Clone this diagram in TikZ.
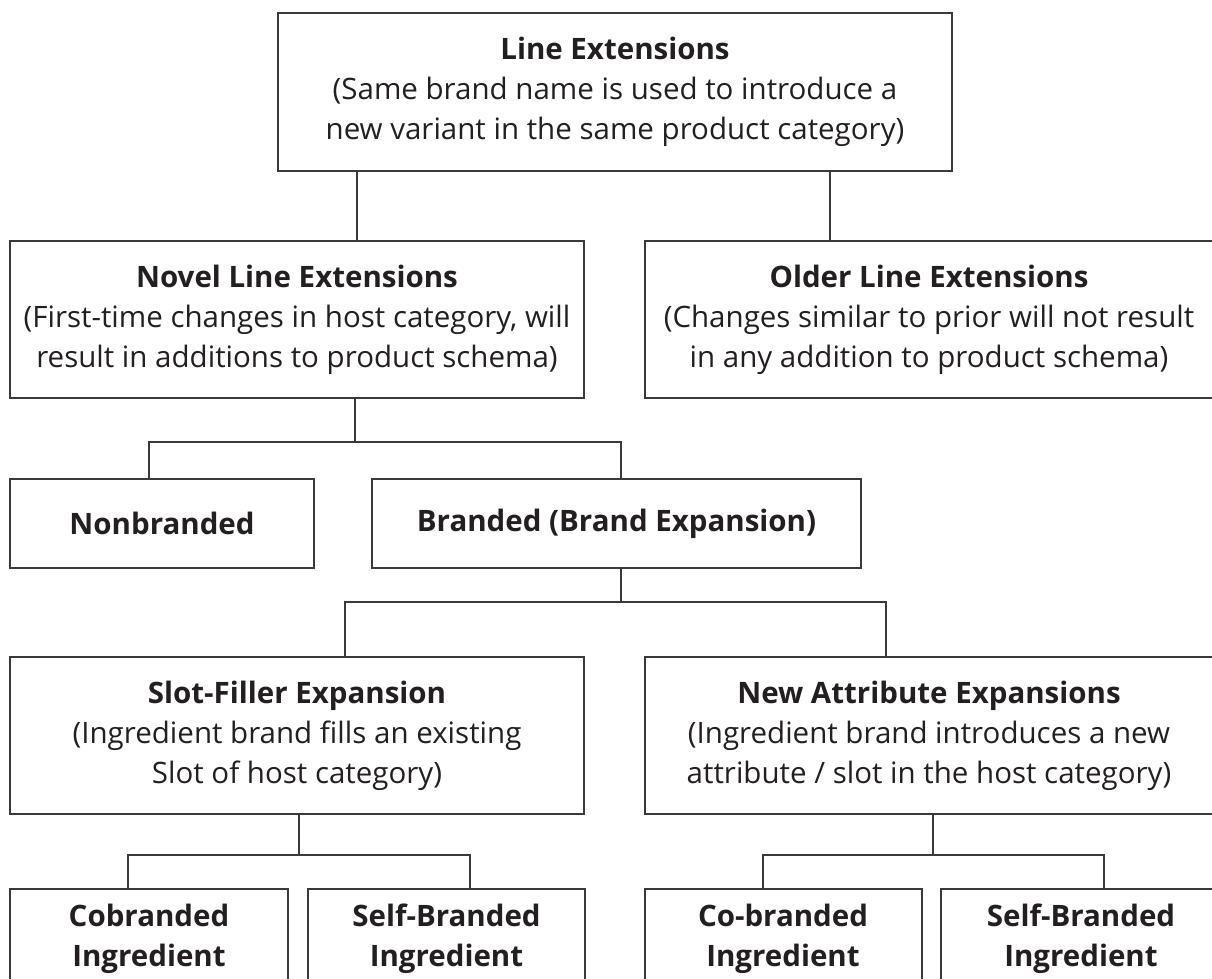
\documentclass[tikz,border=0pt]{standalone}
\usepackage{fontspec}
\setmainfont{Open Sans}
\definecolor{boxline}{HTML}{3A3A3A}
\definecolor{ink}{HTML}{231F20}
\tikzstyle{box} = [draw=boxline, line width=2pt, rectangle, inner sep=0pt, align=center, text=ink, font=\fontsize{29.5}{40}\selectfont]
\tikzstyle{wire} = [draw=boxline, line width=2pt]

\begin{document}
\begin{tikzpicture}[x=1pt,y=-1pt]
\useasboundingbox (0,0) rectangle (1212,979);
\clip (0,0) rectangle (1212,979);
\node [box, minimum width=674, minimum height=158] (top) at (615,92)
	{\textbf{Line Extensions}\\(Same brand name is used to introduce a\\new variant in the same product category)};
\node [box, minimum width=574, minimum height=157] (novel) at (297,319.5)
	{\textbf{Novel Line Extensions}\\(First-time changes in host category, will\\result in additions to product schema)};
\node [box, minimum width=568, minimum height=157] (older) at (929,319.5)
	{\textbf{Older Line Extensions}\\(Changes similar to prior will not result\\in any addition to product schema)};
\node [box, minimum width=304, minimum height=89] (nonbr) at (162,523.5) {\textbf{Nonbranded}};
\node [box, minimum width=489, minimum height=89] (branded) at (616.5,523.5) {\textbf{Branded (Brand Expansion)}};
\node [box, minimum width=574, minimum height=157] (slot) at (297,735.5)
	{\textbf{Slot-Filler Expansion}\\(Ingredient brand fills an existing\\Slot of host category)};
\node [box, minimum width=568, minimum height=157] (attr) at (929,735.5)
	{\textbf{New Attribute Expansions}\\(Ingredient brand introduces a new\\attribute / slot in the host category)};
\node [box, minimum width=278, minimum height=100] (cobr) at (149,939) {\textbf{Cobranded}\\\textbf{Ingredient}};
\node [box, minimum width=277, minimum height=100] (selfa) at (446.5,939) {\textbf{Self-Branded}\\\textbf{Ingredient}};
\node [box, minimum width=277, minimum height=100] (cobrb) at (783,939) {\textbf{Co-branded}\\\textbf{Ingredient}};
\node [box, minimum width=280, minimum height=100] (selfb) at (1081,939) {\textbf{Self-Branded}\\\textbf{Ingredient}};

% connectors
\draw [wire] (top.south -| 357,0) -- (novel.north -| 357,0);
\draw [wire] (top.south -| 830,0) -- (older.north -| 830,0);

\coordinate (bus1) at (355,442);
\draw [wire] (novel.south -| bus1) -- (bus1);
\draw [wire] (nonbr.north -| 149,0) |- (bus1) -| (branded.north -| 621,0);

\coordinate (bus2) at (621,602);
\draw [wire] (branded.south -| bus2) -- (bus2);
\draw [wire] (slot.north -| 345,0) |- (bus2) -| (attr.north -| 886,0);

\coordinate (bus3) at (299,855);
\draw [wire] (slot.south -| bus3) -- (bus3);
\draw [wire] (cobr.north -| 128,0) |- (bus3) -| (selfa.north -| 470,0);

\coordinate (bus4) at (933,855);
\draw [wire] (attr.south -| bus4) -- (bus4);
\draw [wire] (cobrb.north -| 763,0) |- (bus4) -| (selfb.north -| 1104,0);
\end{tikzpicture}
\end{document}
